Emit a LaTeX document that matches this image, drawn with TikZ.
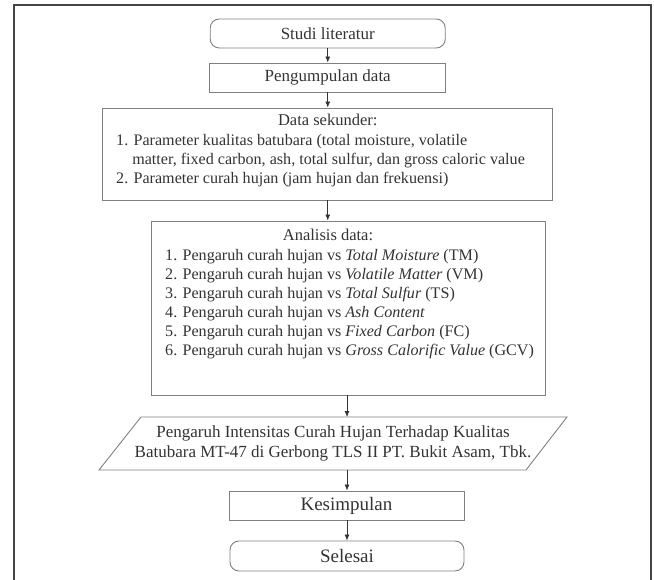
\documentclass[tikz,border=0pt]{standalone}
\usepackage{fontspec}
\setmainfont{Liberation Serif}
\usetikzlibrary{arrows.meta}
\definecolor{txt}{HTML}{333333}
\definecolor{edge}{HTML}{808080}
\definecolor{frm}{HTML}{444444}
\begin{document}
\begin{tikzpicture}[x=1pt,y=-1pt,
  font=\fontsize{17}{19}\selectfont, text=txt,
  box/.style={draw=edge, line width=0.9pt, inner sep=0pt},
  term/.style={box, rounded corners=9pt},
  big/.style={font=\fontsize{19}{21}\selectfont},
  list/.style={anchor=base west, inner sep=0pt, font=\fontsize{16.1}{19}\selectfont},
  arr/.style={draw=txt, line width=0.8pt, -{Latex[length=6pt,width=5pt]}}]
\useasboundingbox (0,0) rectangle (654,580);
\draw[frm, line width=1.4pt] (14,600) -- (14,5) -- (651,5) -- (651,600);

% boxes
\node[term, minimum width=235pt, minimum height=29pt] (studi) at (327.75,33.5) {Studi literatur};
\node[box, minimum width=236pt, minimum height=29pt] (kumpul) at (327.75,77.5) {Pengumpulan data};
\node[box, minimum width=450pt, minimum height=92pt] (data) at (327.75,154) {};
\node[box, minimum width=394pt, minimum height=174pt] (ana) at (348,308) {};
\draw[edge, line width=0.9pt] (141,417) -- (567,417) -- (526,470) -- (99,470) -- cycle;
\node[box, big, minimum width=235pt, minimum height=29pt] (kes) at (346.5,505.5) {Kesimpulan};
\node[term, big, minimum width=234pt, minimum height=30pt] (sel) at (347,556) {Selesai};

% texts
\node[anchor=base, inner sep=0pt, font=\fontsize{16.5}{19}\selectfont] (datat) at (327.75,126) {Data sekunder:};
\node[list] (datal) at (116,146) {\begin{tabular}[t]{@{}l@{}}1. Parameter kualitas batubara (total moisture, volatile\\\hphantom{1.}\ matter, fixed carbon, ash, total sulfur, dan gross caloric value\\2. Parameter curah hujan (jam hujan dan frekuensi)\end{tabular}};
\node[anchor=base, inner sep=0pt, font=\fontsize{16.5}{19}\selectfont] (anat) at (328,241) {Analisis data:};
\node[list] (anal) at (165,261) {\begin{tabular}[t]{@{}l@{}}1. Pengaruh curah hujan vs \textit{Total Moisture} (TM)\\2. Pengaruh curah hujan vs \textit{Volatile Matter} (VM)\\3. Pengaruh curah hujan vs \textit{Total Sulfur} (TS)\\4. Pengaruh curah hujan vs \textit{Ash Content}\\5. Pengaruh curah hujan vs \textit{Fixed Carbon} (FC)\\6. Pengaruh curah hujan vs \textit{Gross Calorific Value} (GCV)\end{tabular}};
\node[align=center, inner sep=0pt, font=\fontsize{17}{20}\selectfont] (outt) at (333,443.5) {Pengaruh Intensitas Curah Hujan Terhadap Kualitas\\Batubara MT-47 di Gerbong TLS II PT. Bukit Asam, Tbk.};
\coordinate (ptop) at (347,417);
\coordinate (pbot) at (347,470);

% connectors
\draw[arr] (studi) -- (kumpul);
\draw[arr] (kumpul) -- (data);
\draw[arr] (data.south) -- (data.south |- ana.north);
\draw[arr] (ana.south -| ptop) -- (ptop);
\draw[arr] (pbot) -- (pbot |- kes.north);
\draw[arr] (kes.south -| pbot) -- (sel.north -| pbot);
\end{tikzpicture}
\end{document}
